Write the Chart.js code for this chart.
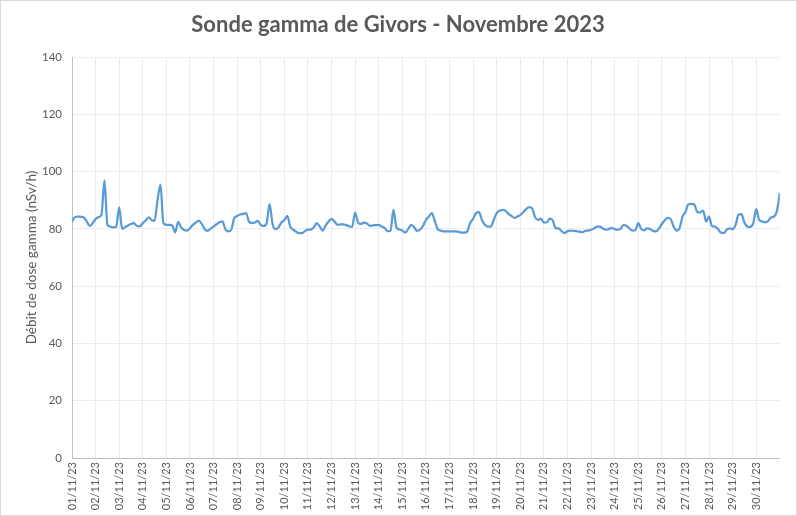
<!DOCTYPE html>
<html><head><meta charset="utf-8">
<script src="https://cdn.jsdelivr.net/npm/chart.js@4.4.0/dist/chart.umd.min.js"></script>
<style>html,body{margin:0;padding:0;background:#fff}#wrap{width:797px;height:516px;position:relative}</style>
</head><body><div id="wrap"><canvas id="c" width="797" height="516"></canvas></div>
<script>
const chartTitle = 'Sonde gamma de Givors - Novembre 2023';
const yAxisTitle = 'Débit de dose gamma (nSv/h)';
const dayLabels = ['01/11/23','02/11/23','03/11/23','04/11/23','05/11/23','06/11/23','07/11/23','08/11/23','09/11/23','10/11/23',
  '11/11/23','12/11/23','13/11/23','14/11/23','15/11/23','16/11/23','17/11/23','18/11/23','19/11/23','20/11/23',
  '21/11/23','22/11/23','23/11/23','24/11/23','25/11/23','26/11/23','27/11/23','28/11/23','29/11/23','30/11/23'];
const samplesPerDay = 8; // one reading every 3 hours
const doseValues = [
  82.6, 84.1, 84.3, 84.2, 84.0, 82.6, 81.0, 82.0,
  83.4, 84.1, 84.9, 96.9, 81.4, 80.8, 80.5, 80.8,
  87.5, 80.0, 80.6, 81.2, 81.7, 82.0, 81.0, 80.9,
  82.0, 82.9, 84.0, 83.1, 82.8, 90.0, 95.4, 82.0,
  81.4, 81.4, 81.2, 78.8, 82.4, 80.5, 79.6, 79.4,
  80.2, 81.4, 82.2, 82.9, 81.7, 79.9, 79.3, 80.1,
  80.8, 81.6, 82.3, 82.6, 79.9, 79.1, 79.7, 83.7,
  84.5, 85.0, 85.2, 85.5, 82.6, 82.0, 82.2, 82.8,
  81.4, 81.0, 82.0, 88.6, 81.7, 79.9, 80.5, 82.2,
  83.1, 84.5, 80.8, 79.7, 79.0, 78.5, 78.5, 79.2,
  79.7, 79.7, 80.6, 82.0, 80.8, 79.4, 81.2, 82.6,
  83.5, 82.6, 81.4, 81.6, 81.6, 81.3, 80.9, 80.7,
  85.7, 82.2, 81.7, 82.2, 81.9, 81.0, 81.2, 81.3,
  81.4, 80.8, 80.3, 79.2, 79.3, 86.6, 80.5, 79.8,
  79.4, 78.7, 80.0, 81.4, 80.6, 79.3, 79.7, 81.0,
  83.1, 84.3, 85.5, 82.8, 79.9, 79.4, 79.1, 79.1,
  79.1, 79.1, 79.1, 79.0, 78.7, 78.7, 79.1, 82.0,
  83.5, 85.5, 85.8, 83.1, 81.4, 80.8, 80.8, 83.1,
  85.5, 86.3, 86.6, 86.3, 85.2, 84.5, 83.8, 84.3,
  84.8, 85.8, 86.9, 87.6, 87.2, 84.1, 83.1, 83.6,
  82.2, 82.3, 83.6, 83.0, 80.2, 80.2, 79.2, 78.5,
  79.2, 79.4, 79.3, 79.2, 79.0, 78.8, 79.3, 79.4,
  79.7, 80.1, 80.8, 80.8, 80.1, 79.7, 79.9, 80.3,
  79.9, 79.7, 80.0, 81.4, 81.0, 80.2, 79.4, 79.5,
  82.0, 80.0, 79.5, 80.2, 80.0, 79.3, 79.1, 80.1,
  81.7, 83.0, 83.8, 83.4, 80.8, 79.4, 80.2, 84.3,
  85.8, 88.6, 88.7, 88.5, 85.9, 85.7, 86.4, 82.6,
  84.3, 81.0, 80.8, 80.0, 78.7, 78.5, 79.7, 80.2,
  79.9, 81.4, 84.9, 85.1, 82.2, 80.8, 80.7, 82.0,
  86.9, 83.1, 82.6, 82.3, 82.7, 84.0, 84.3, 86.1,
  92.5
];
const yMin = 0, yMax = 140, yStep = 20;

const points = doseValues.map((v, i) => ({ x: i / samplesPerDay, y: v }));
const textColor = '#595959';
const gridColor = '#ececec';
const axisColor = '#bfbfbf';

const frame = {
  id: 'frame',
  beforeDraw(chart) {
    const c = chart.ctx; c.save(); c.fillStyle = '#fff'; c.fillRect(0, 0, chart.width, chart.height); c.restore();
  },
  afterDraw(chart) {
    const c = chart.ctx; c.save(); c.strokeStyle = '#d9d9d9'; c.lineWidth = 1;
    c.strokeRect(0.5, 0.5, chart.width - 1, chart.height - 1); c.restore();
  }
};

new Chart(document.getElementById('c'), {
  type: 'line',
  data: { datasets: [{
    data: points, borderColor: '#5b9bd5', borderWidth: 2.25, pointRadius: 0,
    cubicInterpolationMode: 'monotone', fill: false
  }]},
  options: {
    responsive: false, animation: false, devicePixelRatio: 1,
    layout: { padding: { left: 14, right: 15, top: 0, bottom: 0 } },
    plugins: {
      legend: { display: false }, tooltip: { enabled: false },
      title: { display: true, text: chartTitle, color: textColor,
        font: { family: 'Lato', size: 22, weight: 'bold' }, padding: { top: 12, bottom: 18.6 } }
    },
    scales: {
      x: {
        type: 'linear', min: 0, max: dayLabels.length,
        ticks: { stepSize: 1, autoSkip: false, minRotation: 90, maxRotation: 90, padding: 4,
          color: textColor, font: { family: 'Lato', size: 11 },
          callback: v => (dayLabels[v] !== undefined ? dayLabels[v] : '') },
        grid: { color: ctx => (ctx.tick && ctx.tick.value === dayLabels.length ? 'rgba(0,0,0,0)' : gridColor), drawTicks: false },
        border: { color: axisColor },
        afterFit: s => { s.height = 58; }
      },
      y: {
        min: yMin, max: yMax,
        ticks: { stepSize: yStep, padding: 10, color: textColor, font: { family: 'Lato', size: 11.5 } },
        grid: { color: gridColor, drawTicks: false },
        border: { color: axisColor },
        title: { display: true, text: yAxisTitle, color: textColor,
          font: { family: 'Lato', size: 13.5 }, padding: { top: 10, bottom: 0 } },
        afterFit: s => { s.width = 58; }
      }
    }
  },
  plugins: [frame]
});
</script>
</body></html>
